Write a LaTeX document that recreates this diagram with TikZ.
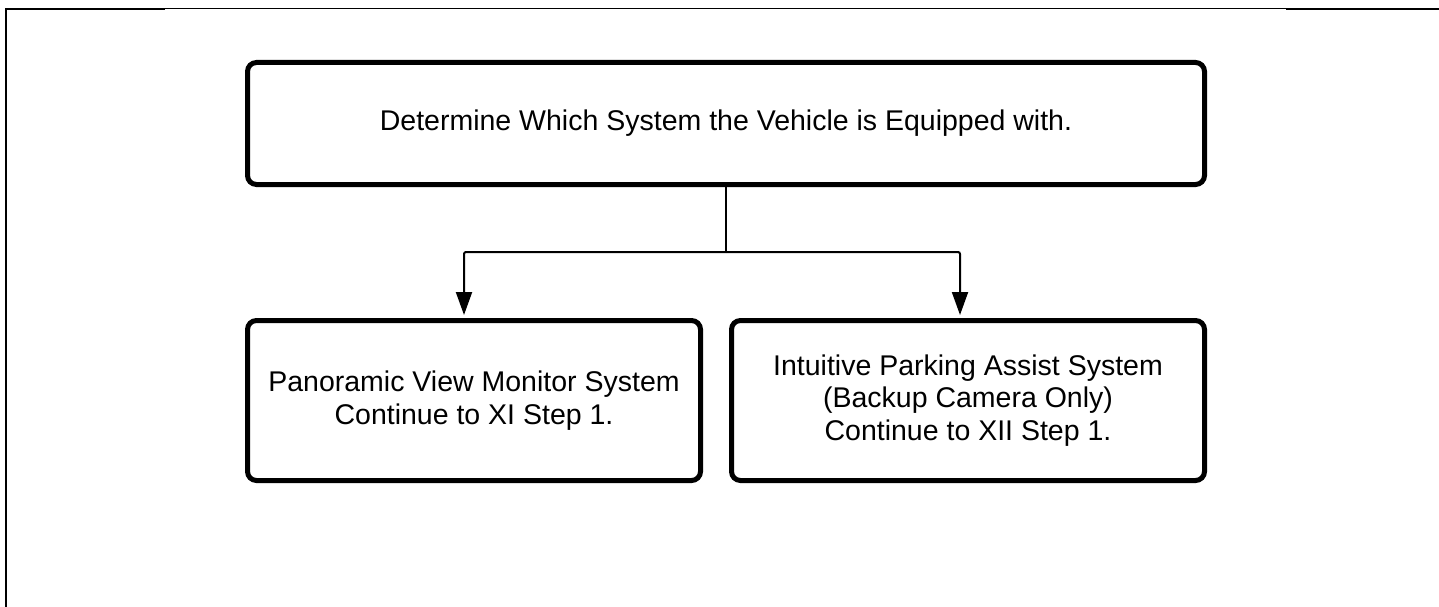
\documentclass[tikz,border=0pt]{standalone}
\usepackage{fontspec}
\setmainfont{Liberation Sans}
\usetikzlibrary{arrows.meta}
\begin{document}
\begin{tikzpicture}[x=1pt,y=1pt,
		stepbox/.style={draw, line width=5pt, rounded corners=9pt, align=center, inner sep=0pt,
			font=\fontsize{28.5}{32.5}\selectfont},
		flow/.style={line width=2pt, rounded corners=2pt},
		flowarrow/.style={flow, -{Triangle[length=23pt,width=16pt]}, shorten >=3pt}]
			\useasboundingbox (0,0) rectangle (1439,-607);
			% page frame
			\draw[line width=2pt] (6,-607) -- (6,-9) -- (165,-9);
			\draw[line width=1pt] (165,-8.5) -- (1286,-8.5);
			\draw[line width=2pt] (1286,-9) -- (1439,-9);
			% boxes
			\node[stepbox, minimum width=957pt, minimum height=122pt] (sys) at (726,-123.5) {Determine Which System the Vehicle is Equipped with.};
			\node[stepbox, minimum width=453pt, minimum height=160pt] (pvm) at (474,-400.5) {Panoramic View Monitor System\\Continue to XI Step 1.};
			\node[stepbox, minimum width=473pt, minimum height=160pt] (ipa) at (968,-400.5) {Intuitive Parking Assist System\\(Backup Camera Only)\\Continue to XII Step 1.};
			% connectors
			\coordinate (split) at (726,-252);
			\draw[flow] (sys.south) -- (split);
			\draw[flowarrow] (split) -| ([xshift=-10pt]pvm.north);
			\draw[flowarrow] (split) -| ([xshift=-8pt]ipa.north);
		\end{tikzpicture}
\end{document}
